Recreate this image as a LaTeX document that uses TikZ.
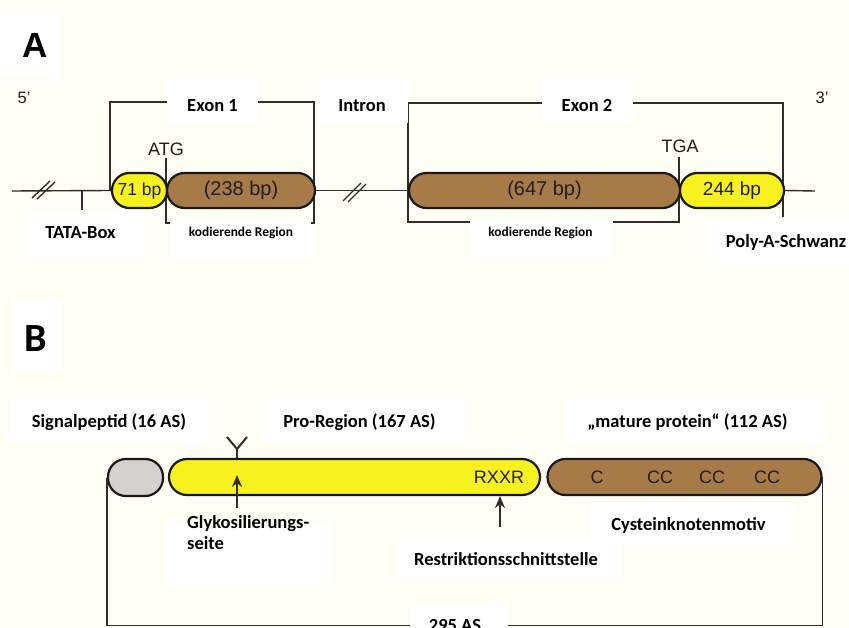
\documentclass[tikz,border=0pt]{standalone}
\usepackage{fontspec}
\setmainfont{Liberation Sans}
\newfontfamily\carl{Carlito}
\usetikzlibrary{arrows.meta}
\definecolor{bg}{HTML}{FFFEF4}
\definecolor{yel}{HTML}{F7F11E}
\definecolor{brn}{HTML}{A77B47}
\definecolor{gry}{HTML}{D4D1D0}
\definecolor{lnc}{HTML}{2E2E2E}
\tikzset{
  seg/.style={rectangle, draw=black!90, line width=2.2pt, inner sep=0pt, text=black!88},
  segA/.style={seg, minimum height=35, rounded corners=17.5},
  segB/.style={seg, minimum height=36, rounded corners=18},
  lbl/.style={font=\carl\bfseries\fontsize{18.5}{22}\selectfont, inner sep=0pt, anchor=base},
  small/.style={font=\carl\bfseries\fontsize{13.4}{16}\selectfont, inner sep=0pt, anchor=base},
  ar/.style={font=\fontsize{17.5}{20}\selectfont, inner sep=0pt, text=black!88},
  lnk/.style={line width=1.4pt, draw=lnc},
  patch/.style={fill=white},
  tip/.style={line width=1.6pt, draw=lnc, -{Stealth[length=12pt,width=10pt]}},
}
\begin{document}
\begin{tikzpicture}[x=1pt,y=-1pt]
\fill[bg] (0,0) rectangle (849,628);
\useasboundingbox (0,0) rectangle (849,628);

% ---------- white patch and letter A
\fill[patch] (0,15) rectangle (60,78);
\node[font=\bfseries\fontsize{35}{40}\selectfont, inner sep=0pt, anchor=base] (lA) at (35,58) {A};

% ---------- part A brackets
\draw[lnk] (166,158) |- (314,223) |- (110,102) -- (110,191);
\draw[lnk] (679,157) |- (408,222) |- (783,103) -- (783,217);
\draw[lnk] (82,191) -- (82,212);
\draw[lnk] (32,198)--(50,181) (37,199)--(55,182);
\draw[lnk] (343,201)--(361,183) (348,202)--(366,184);

% ---------- part A segments
\node[segA, fill=yel, minimum width=55, font=\fontsize{17.5}{20}\selectfont] (y71) at (139.5,190.5) {71 bp};
\node[segA, fill=brn, minimum width=148, font=\fontsize{20}{24}\selectfont] (b238) at (241,190.5) {(238 bp)};
\node[segA, fill=brn, minimum width=271, font=\fontsize{20}{24}\selectfont] (b647) at (544.5,190.5) {(647 bp)};
\node[segA, fill=yel, minimum width=104, font=\fontsize{19}{24}\selectfont] (y244) at (732,190.5) {244 bp};

\coordinate (L0) at (12,191);
\coordinate (L1) at (815,191);
\draw[lnk] (L0) -- (y71.west);
\draw[lnk] (b238.east) -- (b647.west);
\draw[lnk] (y244.east) -- (L1);

\node[ar, font=\fontsize{18}{20}\selectfont] (atg) at (166,149) {ATG};
\node[ar, font=\fontsize{18}{20}\selectfont] (tga) at (680,146) {TGA};
\node[ar, font=\fontsize{16.5}{18}\selectfont] (p5) at (24,98) {5’};
\node[ar, font=\fontsize{16.5}{18}\selectfont] (p3) at (822,98) {3’};

% labels A
\fill[patch] (167,80) rectangle (258,123);
\node[lbl] (ex1) at (212.5,112) {Exon 1};
\fill[patch] (320,80) rectangle (408,123);
\node[lbl] (intr) at (362,112) {Intron};
\fill[patch] (542,80) rectangle (633,122);
\node[lbl] (ex2) at (587,112) {Exon 2};
\fill[patch] (25,210) rectangle (143,257);
\node[lbl] (tata) at (80.5,239) {TATA-Box};
\fill[patch] (170,220) rectangle (311,258);
\node[small] (kod1) at (241,237) {kodierende Region};
\fill[patch] (470,220) rectangle (613,257);
\node[small] (kod2) at (540.5,237) {kodierende Region};
\fill[patch] (705,217) rectangle (849,265);
\node[lbl] (poly) at (786,248) {Poly-A-Schwanz};

% ---------- part B
\fill[patch] (12,300) rectangle (62,372);
\node[font=\carl\bfseries\fontsize{40}{44}\selectfont, inner sep=0pt, anchor=base] (lB) at (35.5,352) {B};

\fill[patch] (10,400) rectangle (207,442);
\node[lbl] (sig) at (109,427) {Signalpeptid (16 AS)};
\fill[patch] (265,400) rectangle (465,442);
\node[lbl] (proL) at (359.5,427) {Pro-Region (167 AS)};
\fill[patch] (567,400) rectangle (825,442);
\node[lbl] (matL) at (687.5,427) {„mature protein“ (112 AS)};

\node[segB, fill=gry, minimum width=55, minimum height=37] (gp) at (135.5,477.5) {};
\node[segB, fill=yel, minimum width=371] (pro) at (354.5,477) {};
\node[segB, fill=brn, minimum width=274] (mat) at (684.5,477) {};

\node[ar, font=\fontsize{18}{20}\selectfont] (rxxr) at (499,477) {RXXR};
\node[ar, font=\fontsize{18}{20}\selectfont] (c1) at (597,477) {C};
\node[ar, font=\fontsize{18}{20}\selectfont] (c2) at (660,477) {CC};
\node[ar, font=\fontsize{18}{20}\selectfont] (c3) at (712,477) {CC};
\node[ar, font=\fontsize{18}{20}\selectfont] (c4) at (767,477) {CC};

% Y glycosylation symbol
\coordinate (yj) at (237,449);
\draw[line width=2pt, draw=lnc] (227,437) -- (yj) -- (247,437);
\draw[line width=2pt, draw=lnc] (yj) -- (pro.north -| yj);

% arrows
\coordinate (ga) at (237,508);
\coordinate (gt) at (237,475);
\draw[tip] (ga) -- (gt);
\coordinate (ra) at (500,527);
\draw[tip] (ra) -- (pro.south -| ra);

% 295 AS bracket
\draw[lnk] (gp.west) -- ++(0,148) -| (mat.east);

\fill[patch] (590,502) rectangle (793,543);
\node[lbl] (cys) at (688.5,530) {Cysteinknotenmotiv};
\fill[patch] (167,522) rectangle (333,585);
\node[lbl, anchor=base west, align=left] (gly) at (187,549) {Glykosilierungs-\\[-1pt]seite};
\fill[patch] (395,537) rectangle (622,577);
\node[lbl] (res) at (506,565) {Restriktionsschnittstelle};
\fill[patch] (410,603) rectangle (508,640);
\node[lbl] (as) at (455,631) {295 AS};
\end{tikzpicture}
\end{document}
